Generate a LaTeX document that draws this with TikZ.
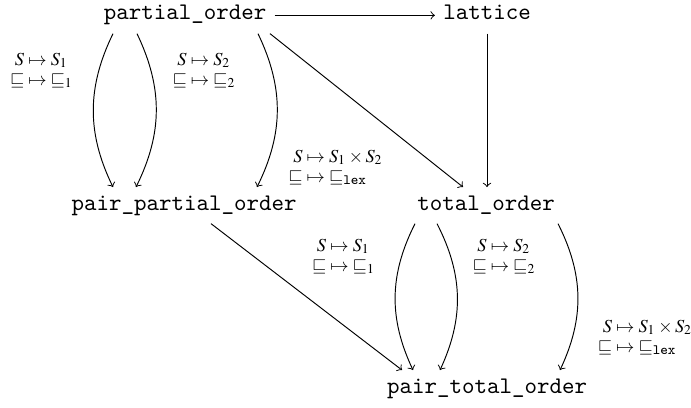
\documentclass[tikz,border=0pt]{standalone}
\usepackage{mathptmx}
\usetikzlibrary{calc}
\newcommand\maplab[2]{$\begin{array}{@{}r@{}l@{}} S & {}\mapsto \mathord{#1}\\ \sqsubseteq & {}\mapsto \mathord{#2}\end{array}$}
\begin{document}
\begin{tikzpicture}[x=0.42pt,y=-0.42pt,
  obj/.style={font=\ttfamily, text height=6.1pt, text depth=2.2pt, anchor=base},
  lab/.style={font=\fontsize{7.7}{8.4}\selectfont, inner sep=0pt},
  arr/.style={->}]
\useasboundingbox (0,0) rectangle (691,407);
% objects
\node[obj] (po)  at (185,20)  {partial\_order};
\node[obj] (lat) at (487,20)  {lattice};
\node[obj] (ppo) at (184,210) {pair\_partial\_order};
\node[obj] (to)  at (486,210) {total\_order};
\node[obj] (pto) at (487,393) {pair\_total\_order};
% straight arrows
\draw[arr] (po.east) -- (lat.west);
\draw[arr] (lat.south) -- (lat.south |- to.north);
\draw[arr] ($(po.south)+(85,0)$) -- ($(to.north)+(-23,0)$);
\draw[arr] ($(ppo.south)+(27,0)$) -- ($(pto.north)+(-85,0)$);
% curved arrows from partial_order
\draw[arr] ($(po.south)+(-72,0)$) to[bend right=26] ($(ppo.north)+(-71,0)$);
\draw[arr] ($(po.south)+(-48,0)$) to[bend left=26]  ($(ppo.north)+(-48,0)$);
\draw[arr] ($(po.south)+(73,0)$)  to[bend left=26]  ($(ppo.north)+(73,0)$);
% curved arrows from total_order
\draw[arr] ($(to.south)+(-71,0)$) to[bend right=26] ($(pto.north)+(-74,0)$);
\draw[arr] ($(to.south)+(-49,0)$) to[bend left=26]  ($(pto.north)+(-47,0)$);
\draw[arr] ($(to.south)+(72,0)$)  to[bend left=26]  ($(pto.north)+(73,0)$);
% labels
\node[lab] (la) at (41.5,71)  {\maplab{S_1}{\sqsubseteq_1}};
\node[lab] (lb) at (204,71)   {\maplab{S_2}{\sqsubseteq_2}};
\node[lab] (lc) at (335.5,168){\maplab{S_1\times S_2}{\sqsubseteq_{\mathtt{lex}}}};
\node[lab] (ld) at (343.5,257){\maplab{S_1}{\sqsubseteq_1}};
\node[lab] (le) at (504,257)  {\maplab{S_2}{\sqsubseteq_2}};
\node[lab] (lf) at (645,338)  {\maplab{S_1\times S_2}{\sqsubseteq_{\mathtt{lex}}}};
\end{tikzpicture}
\end{document}
